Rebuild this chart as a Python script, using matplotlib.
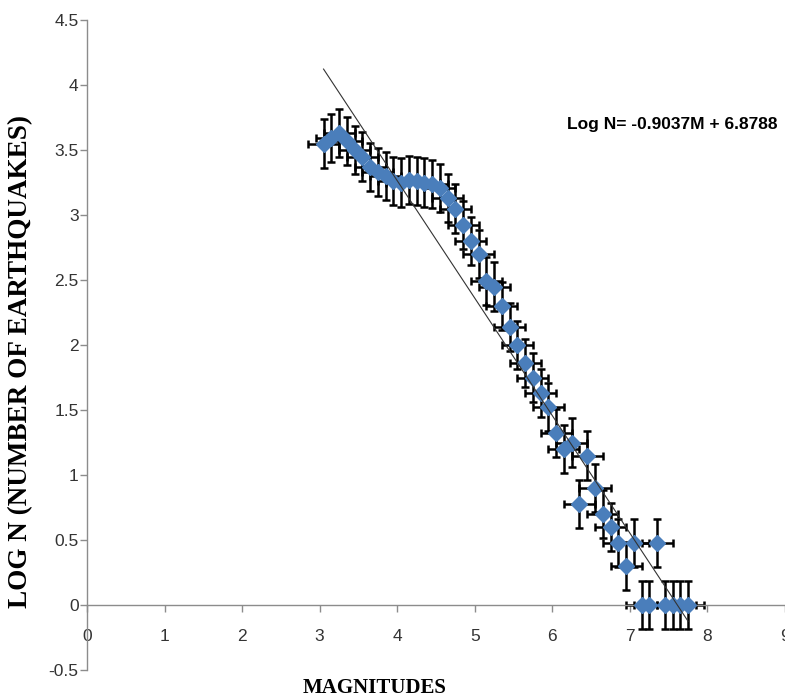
import matplotlib
matplotlib.use("Agg")
import matplotlib.pyplot as plt
import numpy as np

# bin centres of magnitude and log10 of counts
magnitudes = [3.05, 3.15, 3.25, 3.35, 3.45, 3.55, 3.65, 3.75, 3.85, 3.95,
              4.05, 4.15, 4.25, 4.35, 4.45, 4.55, 4.65, 4.75, 4.85, 4.95,
              5.05, 5.15, 5.25, 5.35, 5.45, 5.55, 5.65, 5.75, 5.85, 5.95,
              6.05, 6.15, 6.25, 6.35, 6.45, 6.55, 6.65, 6.75, 6.85, 6.95,
              7.05, 7.15, 7.25, 7.35, 7.45, 7.55, 7.65, 7.75]
log_n = [3.55, 3.59, 3.63, 3.57, 3.50, 3.45, 3.37, 3.33, 3.30, 3.26,
         3.25, 3.27, 3.26, 3.25, 3.24, 3.21, 3.13, 3.05, 2.92, 2.80,
         2.70, 2.49, 2.45, 2.30, 2.14, 2.00, 1.86, 1.75, 1.63, 1.52,
         1.32, 1.20, 1.25, 0.78, 1.15, 0.90, 0.70, 0.60, 0.48, 0.30,
         0.48, 0.00, 0.00, 0.48, 0.00, 0.00, 0.00, 0.00]
x_err = 0.2
y_err = 0.185

# trendline from the chart's equation
slope = -0.9037
intercept = 6.8788

fig = plt.figure(figsize=(7.85, 7.0), dpi=100)
ax = fig.add_axes([87 / 785, 30 / 700, 1 - 87 / 785, 650 / 700])

ax.errorbar(magnitudes, log_n, xerr=x_err, yerr=y_err, fmt='none',
            ecolor='black', elinewidth=1.8, capsize=3, capthick=1.8, zorder=2)
ax.plot(magnitudes, log_n, linestyle='none', marker='D', markersize=8,
        color='#4A7EBB', markeredgecolor='#4A7EBB', zorder=3)

xs = np.array([magnitudes[0], magnitudes[-1]])
ax.plot(xs, slope * xs + intercept, color='#333333', linewidth=0.8, zorder=4)

ax.set_xlim(0, 9)
ax.set_ylim(-0.5, 4.5)
ax.set_xticks(range(0, 10))
ax.set_yticks(np.arange(-0.5, 4.51, 0.5))
ax.set_yticklabels(['-0.5', '0', '0.5', '1', '1.5', '2', '2.5', '3', '3.5', '4', '4.5'])

for s in ['top', 'right']:
    ax.spines[s].set_visible(False)
ax.spines['bottom'].set_position(('data', 0))
for s in ['left', 'bottom']:
    ax.spines[s].set_color('#8C8C8C')
    ax.spines[s].set_linewidth(1.0)

ax.tick_params(axis='both', colors='#8C8C8C', length=5, width=1.0,
               labelcolor='#333333', labelsize=12.5)
ax.tick_params(axis='y', pad=1)
ax.tick_params(axis='x', pad=12)
for lab in ax.get_xticklabels() + ax.get_yticklabels():
    lab.set_family('Liberation Sans')

fig.text(375 / 785, 1 - 688 / 700, 'MAGNITUDES', ha='center', va='center',
         family='Liberation Serif', fontweight='bold', fontsize=15)
fig.text(21 / 785, 1 - 361 / 700, 'LOG N (NUMBER OF EARTHQUAKES)', ha='center',
         va='center', rotation=90, family='Liberation Serif', fontweight='bold',
         fontsize=19.5)
fig.text(567 / 785, 1 - 125 / 700, 'Log N= -0.9037M + 6.8788', ha='left',
         va='center', family='Liberation Sans', fontweight='bold', fontsize=12.5)

fig.savefig('out.png', dpi=100)
